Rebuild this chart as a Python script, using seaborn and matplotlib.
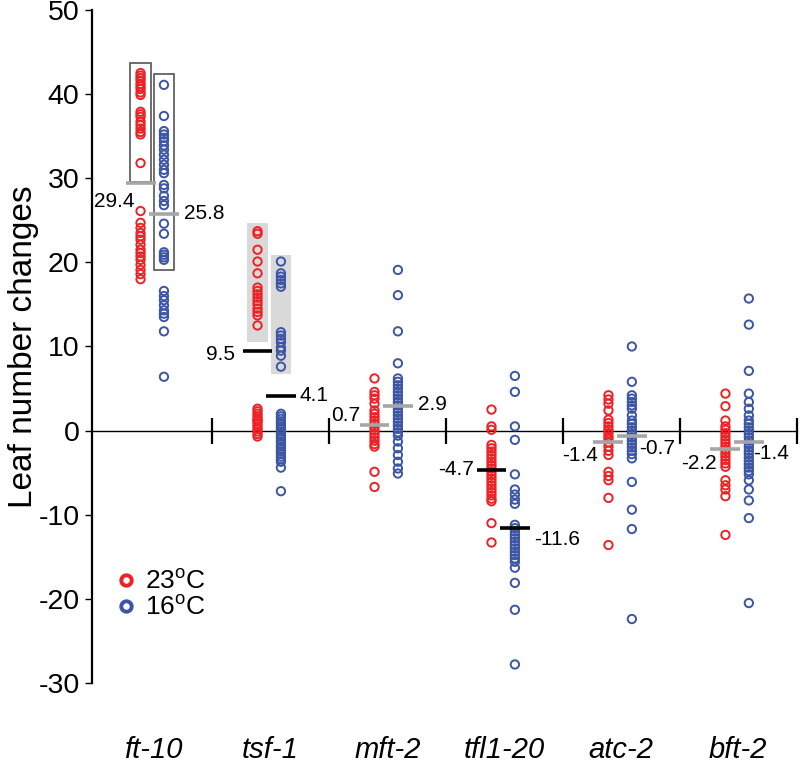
import numpy as np
import pandas as pd
import matplotlib
matplotlib.use('Agg')
import matplotlib.pyplot as plt
import seaborn as sns
from matplotlib.patches import Rectangle
from matplotlib.lines import Line2D

# genes and temperatures
genes = ['ft-10', 'tsf-1', 'mft-2', 'tfl1-20', 'atc-2', 'bft-2']
temps = ['23', '16']

# leaf number changes, 23C
ft10_23 = [42.5, 42.2, 41.9, 41.6, 41.2, 40.9, 40.6, 40.2, 39.9, 37.9, 37.6, 37.3, 36.7, 36.3, 35.9,
           35.5, 35.2, 31.8, 26.1, 24.7, 24.1, 23.5, 23.1, 22.7, 22.1, 21.5, 21.1, 20.7, 20.3, 19.7,
           19.1, 18.6, 18.0]
tsf1_23 = [23.7, 23.4, 21.5, 20.1, 18.7, 17.0, 16.6, 16.2, 15.8, 15.4, 15.0, 14.5, 14.1, 13.7, 12.5,
           2.6, 2.3, 2.0, 1.7, 1.4, 1.1, 0.8, 0.5, 0.2, -0.1, -0.4, -0.7, 1.2]
mft2_23 = [6.2, 4.6, 4.2, 3.8, 3.2, 2.4, 2.0, 1.6, 1.2, 0.8, 0.4, 0.0, -0.4, -0.8, -1.2, -1.6, -1.9,
           -4.9, -6.7]
tfl1_23 = [2.5, 0.5, 0.1, -1.7, -2.1, -2.5, -2.9, -3.3, -3.7, -4.1, -4.5, -4.9, -5.3, -5.7, -6.1,
           -6.5, -6.9, -7.3, -7.7, -8.1, -8.4, -11.0, -13.3]
atc2_23 = [4.2, 3.7, 3.2, 2.4, 1.3, 0.9, 0.5, 0.1, -0.3, -0.7, -1.0, -1.4, -1.9, -2.4, -2.9, -4.9,
           -5.4, -5.9, -8.0, -13.6]
bft2_23 = [4.4, 2.9, 1.2, 0.5, 0.1, -0.3, -0.7, -1.1, -1.5, -1.9, -2.3, -2.7, -3.1, -3.5, -3.9, -4.3,
           -5.9, -6.5, -7.0, -7.8, -12.4]

# 16C
ft10_16 = [41.1, 37.4, 35.6, 35.2, 34.8, 34.4, 33.9, 33.4, 32.8, 32.2, 31.6, 31.0, 30.6, 29.2, 28.8,
           27.9, 27.3, 26.8, 24.6, 23.4, 21.2, 20.9, 20.6, 20.3, 16.6, 16.0, 15.5, 14.9, 14.3, 13.9,
           13.5, 11.8, 6.4]
tsf1_16 = [20.1, 18.7, 18.3, 17.9, 17.5, 17.1, 11.7, 11.3, 10.9, 10.5, 9.9, 9.5, 8.9, 7.6,
           2.0, 1.7, 1.4, 1.1, 0.8, 0.5, 0.2, -0.1, -0.4, -0.7, -1.0, -1.3, -1.6, -1.9, -2.2, -2.5,
           -2.8, -3.1, -3.4, -3.7, -4.4, -7.2]
mft2_16 = [19.1, 16.1, 11.8, 8.0, 6.2, 5.8, 5.4, 5.0, 4.6, 4.2, 3.8, 3.4, 3.0, 2.6, 2.2, 1.8, 1.4,
           1.0, 0.6, 0.2, -0.2, -0.6, -1.3, -2.1, -2.9, -3.7, -4.5, -5.1]
tfl1_16 = [6.5, 4.6, 0.5, -1.1, -5.2, -7.0, -7.6, -8.2, -8.7, -11.2, -11.6, -12.0, -12.4, -12.8,
           -13.2, -13.6, -14.0, -14.4, -14.8, -15.2, -15.6, -16.3, -18.1, -21.3, -27.8]
atc2_16 = [10.0, 5.8, 4.2, 3.8, 3.4, 3.0, 2.6, 1.8, 1.2, 0.8, 0.4, 0.0, -0.4, -0.8, -1.2, -1.6,
           -2.0, -2.4, -2.8, -3.3, -6.1, -9.4, -11.7, -22.4]
bft2_16 = [15.7, 12.6, 7.1, 4.4, 3.4, 2.6, 1.8, 1.2, 0.8, 0.4, 0.0, -0.4, -0.8, -1.2, -1.6, -2.0,
           -2.4, -2.8, -3.2, -3.6, -4.0, -4.4, -4.8, -5.2, -5.9, -7.0, -8.3, -10.4, -20.5]

vals_23 = [ft10_23, tsf1_23, mft2_23, tfl1_23, atc2_23, bft2_23]
vals_16 = [ft10_16, tsf1_16, mft2_16, tfl1_16, atc2_16, bft2_16]

# group means as printed, and whether the difference is significant (black bar)
means_23 = [29.4, 9.5, 0.7, -4.7, -1.4, -2.2]
means_16 = [25.8, 4.1, 2.9, -11.6, -0.7, -1.4]
signif = [False, True, False, True, False, False]

# highlighted ranges (gene, temp, low, high, style)
boxes = [('ft-10', '23', 29.5, 43.7, 'line'), ('ft-10', '16', 19.1, 42.4, 'line'),
         ('tsf-1', '23', 10.5, 24.7, 'fill'), ('tsf-1', '16', 6.7, 20.9, 'fill')]

# label placement: (side, dx px, dy px) for 23C and 16C
lab_23 = [('right', 9, -18), ('right', -8, -4), ('right', 1, 9), ('right', -3, 1), ('right', 5, -13), ('right', 6, -14)]
lab_16 = [('left', 5, 0), ('left', 4, 1), ('left', 5, 2), ('left', 4, -11), ('left', -8, -12), ('left', -11, -11)]

red = '#ec2227'
blue = '#3c55a5'
colors = {'23': red, '16': blue}
offset = {'23': -0.11, '16': 0.09}

sns.set_theme(style='white')
plt.rcParams['font.family'] = ['Liberation Sans', 'DejaVu Sans']
plt.rcParams['mathtext.fontset'] = 'custom'
plt.rcParams['mathtext.rm'] = 'Liberation Sans'
plt.rcParams['axes.unicode_minus'] = False
plt.rcParams['text.color'] = 'black'
plt.rcParams['axes.labelcolor'] = 'black'
plt.rcParams['xtick.color'] = 'black'
plt.rcParams['ytick.color'] = 'black'

rows = []
for g, v23, v16 in zip(genes, vals_23, vals_16):
    for v in v23:
        rows.append((g, '23', v))
    for v in v16:
        rows.append((g, '16', v))
df = pd.DataFrame(rows, columns=['gene', 'temp', 'value'])
df['x'] = df['gene'].map({g: i for i, g in enumerate(genes)}) + df['temp'].map(offset)

fig = plt.figure(figsize=(8, 7.74), dpi=100)
ax = fig.add_axes([0.115, 0.1176, 0.881, 0.8695])

# boxes behind the points
bw = 0.175
for g, t, lo, hi, style in boxes:
    xc = genes.index(g) + offset[t]
    if style == 'fill':
        ax.add_patch(Rectangle((xc - bw / 2, lo), bw, hi - lo, facecolor='#d9d9d9',
                               edgecolor='none', zorder=1))
    else:
        ax.add_patch(Rectangle((xc - bw / 2, lo), bw, hi - lo, facecolor='none',
                               edgecolor='#555555', lw=1.2, zorder=1))

sns.scatterplot(data=df, x='x', y='value', hue='temp', palette=colors, s=36,
                linewidth=1.4, legend=False, ax=ax, zorder=3)
pts = ax.collections[-1]
pts.set_edgecolors(pts.get_facecolors())
pts.set_facecolors('none')

# mean bars and their labels
hw = 0.128
for i, g in enumerate(genes):
    c = 'black' if signif[i] else '#a6a6a6'
    for t, means, labs in (('23', means_23, lab_23), ('16', means_16, lab_16)):
        xc = i + offset[t]
        m = means[i]
        ax.hlines(m, xc - hw, xc + hw, colors=c, lw=2.6, zorder=4)
        side, dx, dy = labs[i]
        if side == 'right':
            ax.annotate(f'{m:.1f}', xy=(xc - hw, m), xytext=(dx * 0.72, dy * 0.72),
                        textcoords='offset points', ha='right', va='center', fontsize=15)
        else:
            ax.annotate(f'{m:.1f}', xy=(xc + hw, m), xytext=(dx * 0.72, dy * 0.72),
                        textcoords='offset points', ha='left', va='center', fontsize=15)

ax.set_xlim(-0.525, 5.5)
ax.set_ylim(-30, 50)
ax.set_xlabel('')
ax.set_ylabel('Leaf number changes', fontsize=24)
ax.yaxis.set_label_coords(-0.075, 0.5)

for s in ['top', 'right']:
    ax.spines[s].set_visible(False)
ax.spines['left'].set_linewidth(1.6)
ax.spines['left'].set_color('black')
ax.spines['bottom'].set_position(('data', 0))
ax.spines['bottom'].set_linewidth(1.0)
ax.spines['bottom'].set_color('black')

ax.set_yticks(range(-30, 51, 10))
ax.tick_params(axis='y', direction='out', length=5, width=1, labelsize=20.5, pad=4,
               left=True, color='black')
ax.set_xticks([])
ax.set_xticks(np.arange(len(genes)) + 0.5, minor=True)
ax.tick_params(axis='x', which='minor', direction='inout', length=19, width=1.6,
               bottom=True, color='black')

for i, g in enumerate(genes):
    ax.text(i, -0.099, g, transform=ax.get_xaxis_transform(), ha='center', va='center',
            fontsize=21, style='italic')

handles = [Line2D([], [], marker='o', ls='', markersize=7.5, mfc='none', mec=red, mew=2.8),
           Line2D([], [], marker='o', ls='', markersize=7.5, mfc='none', mec=blue, mew=2.8)]
ax.legend(handles, ['23$^{\\rm o}$C', '16$^{\\rm o}$C'], loc='center left',
          bbox_to_anchor=(0.011, 0.131), frameon=False, fontsize=19, borderpad=0,
          handlelength=1.0, handletextpad=0.2, labelspacing=0.05)

fig.savefig('out.png', dpi=100)
